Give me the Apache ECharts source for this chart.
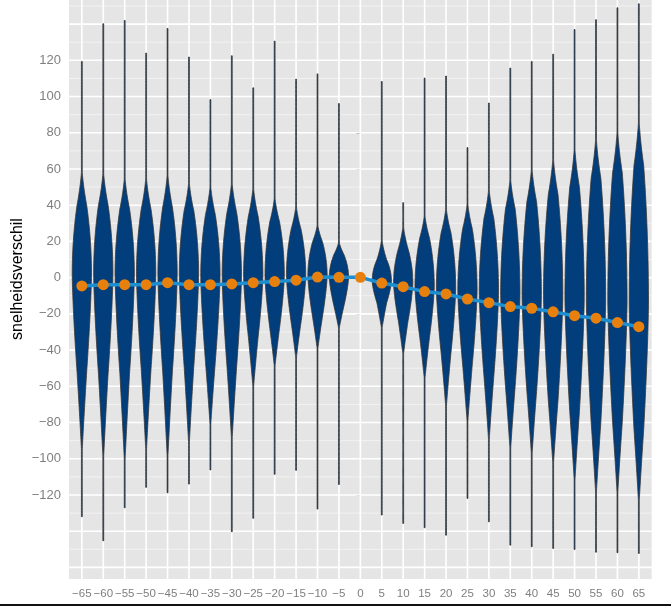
<!DOCTYPE html>
<html>
<head>
<meta charset="utf-8">
<script src="https://cdn.jsdelivr.net/npm/echarts@6/dist/echarts.min.js"></script>
<style>
html,body{margin:0;padding:0;background:#fff;}
#c{width:671px;height:606px;}
</style>
</head>
<body>
<div id="c"></div>
<script>
// ---- data ----
const categories = [-65,-60,-55,-50,-45,-40,-35,-30,-25,-20,-15,-10,-5,0,5,10,15,20,25,30,35,40,45,50,55,60,65];
const meanValues = [-4.6,-3.9,-3.9,-3.9,-2.8,-3.9,-3.9,-3.5,-2.8,-2.2,-1.4,0.3,0.2,0.2,-3.0,-5.0,-7.7,-9.0,-11.8,-13.8,-16.0,-16.9,-18.9,-21.0,-22.4,-24.8,-27.1];
const tailMax = [119.3,140.2,142,124,137.6,121.8,98.3,122.5,104.8,130.6,109.6,112.5,96.1,null,108.3,41.4,110.2,111.3,71.8,96.4,115.7,119.3,123.4,137,142.4,149,151.2];
const tailMin = [-132,-145.3,-127.1,-115.8,-118.8,-114,-106.2,-140.3,-132.9,-108.6,-106.4,-127.8,-114.2,null,-131.1,-135.7,-138.1,-142.2,-121.9,-134.8,-147.7,-148.6,-149.5,-150.1,-151.6,-151.9,-152.3];
const modeValues = [2,2,2,2,2,2,1,1,1,1,1,1,0,null,-2,-3,-5,-6,-7,-8,-9,-10,-10,-11,-12,-13,-14];
const halfTop = [40,40,38,38,39,37,35,36,34,31,27,20,13,null,10,16,22,25,27,33,38,42,46,50,55,58,62];
const tipTop = [63,62,59,59,61,56,54,56,53,47,42,31,21,null,23,31,37,41,44,52,58,64,70,76,82,86,92];
const halfBottom = [-52,-53,-53,-51,-52,-49,-47,-49,-33,-28,-25,-22,-16,null,-14,-24,-33,-42,-48,-55,-60,-63,-68,-74,-80,-80,-84];
const tipBottom = [-100,-104,-106,-100,-104,-96,-85,-93,-63,-51,-46,-41,-29,null,-29,-44,-58,-74,-83,-93,-98,-101,-106,-116,-123,-123,-128];
const yTickValues = [-120,-100,-80,-60,-40,-20,0,20,40,60,80,100,120];
const yMajorGrid = [-160,-140,-120,-100,-80,-60,-40,-20,0,20,40,60,80,100,120,140];
const yMinorGrid = [-150,-130,-110,-90,-70,-50,-30,-10,10,30,50,70,90,110,130,150];
const yAxisTitle = 'snelheidsverschil';

const FONT = '"Liberation Sans", Arial, sans-serif';
const fmt = v => (v < 0 ? '\u2212' + Math.abs(v) : String(v));

function profile(i, v) {
  const m = modeValues[i];
  let d, h, T, p, q;
  if (v >= m) { d = v - m; h = halfTop[i] - m; T = tipTop[i] - m; p = 2; q = 1.6; }
  else { d = m - v; h = m - halfBottom[i]; T = m - tipBottom[i]; p = 1.4; q = 1.1; }
  if (d <= h) return 1 - 0.5 * Math.pow(d / h, p);
  if (d <= T) return 0.5 * Math.pow(1 - (d - h) / (T - h), q);
  return 0;
}

const gridData = [];
yMajorGrid.forEach(v => gridData.push([0, v, 0]));
yMinorGrid.forEach(v => gridData.push([0, v, 1]));
categories.forEach(c => gridData.push([c, 0, 2]));

const chart = echarts.init(document.getElementById('c'), null, {renderer: 'canvas'});
chart.setOption({
  animation: false,
  backgroundColor: '#ffffff',
  grid: {left: 69, top: 0, width: 582.7, height: 579, show: true, backgroundColor: '#E5E5E5', borderWidth: 0},
  graphic: [{
    type: 'text', x: 18, y: 279, rotation: Math.PI / 2,
    style: {text: yAxisTitle, fill: '#000', font: '16px ' + FONT, align: 'center', verticalAlign: 'middle'}
  }, {
    type: 'rect', shape: {x: 0, y: 604, width: 671, height: 2}, style: {fill: '#111'}
  }],
  xAxis: {
    type: 'value', min: -68, max: 68,
    splitLine: {show: false}, axisLine: {show: false},
    axisTick: {show: true, customValues: categories, length: 4, lineStyle: {color: '#7F7F7F', width: 1}},
    axisLabel: {customValues: categories, formatter: fmt, color: '#7F7F7F', fontSize: 11.5, fontFamily: FONT, margin: 9, hideOverlap: false}
  },
  yAxis: {
    type: 'value', min: -166.4, max: 153.3,
    splitLine: {show: false}, axisLine: {show: false},
    axisTick: {show: true, customValues: yTickValues, length: 4, lineStyle: {color: '#7F7F7F', width: 1}},
    axisLabel: {customValues: yTickValues, formatter: fmt, color: '#7F7F7F', fontSize: 13, fontFamily: FONT, margin: 8}
  },
  series: [
    {
      type: 'custom', silent: true, z: 1, clip: true,
      data: gridData,
      renderItem: function (params, api) {
        const cs = params.coordSys;
        const kind = api.value(2);
        if (kind === 2) {
          const x = api.coord([api.value(0), 0])[0];
          return {type: 'line', shape: {x1: x, y1: cs.y, x2: x, y2: cs.y + cs.height},
            style: {stroke: '#FFFFFF', lineWidth: 1.6}};
        }
        const y = api.coord([0, api.value(1)])[1];
        return {type: 'line', shape: {x1: cs.x, y1: y, x2: cs.x + cs.width, y2: y},
          style: {stroke: kind === 0 ? '#FFFFFF' : '#F2F2F2', lineWidth: kind === 0 ? 1.6 : 1}};
      }
    },
    {
      type: 'custom', silent: true, z: 2, clip: true,
      data: categories.map((c, i) => [c, i]),
      renderItem: function (params, api) {
        const i = api.value(1);
        const x = api.value(0);
        if (tailMax[i] === null) return null;
        const lo = tailMin[i], hi = tailMax[i];
        const vals = [];
        const n = 300;
        for (let k = 0; k <= n; k++) vals.push(lo + (hi - lo) * k / n);
        [modeValues[i], halfTop[i], tipTop[i], halfBottom[i], tipBottom[i]].forEach(v => vals.push(v));
        vals.sort((a, b) => a - b);
        const right = [], left = [];
        vals.forEach(v => {
          const hw = Math.max(2.25 * profile(i, v), 0.1);
          right.push(api.coord([x + hw, v]));
          left.push(api.coord([x - hw, v]));
        });
        const pts = right.concat(left.reverse());
        return {type: 'polygon', shape: {points: pts},
          style: {fill: '#023D7C', stroke: '#333333', lineWidth: 0.8}};
      }
    },
    {
      type: 'line', z: 3, silent: true,
      data: categories.map((c, i) => [c, meanValues[i]]),
      symbol: 'none',
      lineStyle: {color: '#1D8FD1', width: 3.5}
    },
    {
      type: 'scatter', z: 4, silent: true,
      data: categories.map((c, i) => [c, meanValues[i]]),
      symbolSize: 11,
      itemStyle: {color: '#E8800E', opacity: 1}
    }
  ]
});
</script>
</body>
</html>
